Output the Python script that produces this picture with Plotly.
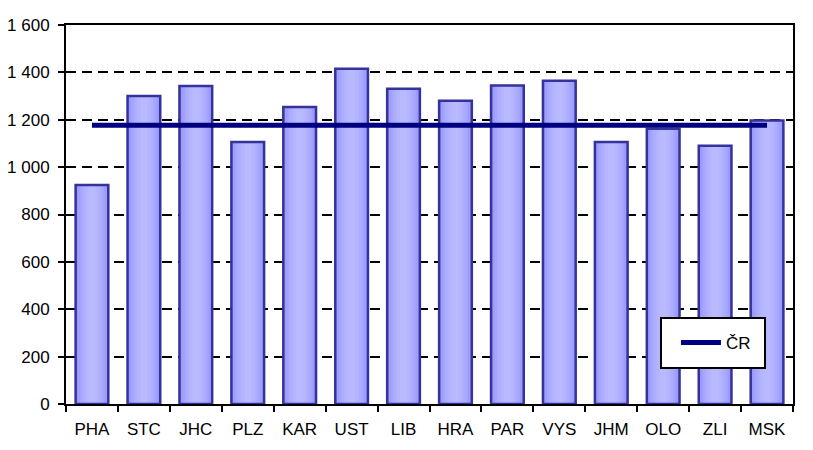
import plotly.graph_objects as go

regions = ["PHA", "STC", "JHC", "PLZ", "KAR", "UST", "LIB", "HRA", "PAR", "VYS", "JHM", "OLO", "ZLI", "MSK"]
values = [925, 1300, 1342, 1106, 1254, 1415, 1331, 1280, 1345, 1365, 1106, 1162, 1090, 1197]
cr_value = 1177
cr_values = [cr_value] * len(regions)

y_tickvals = [0, 200, 400, 600, 800, 1000, 1200, 1400, 1600]
y_ticktext = ["0", "200", "400", "600", "800", "1 000", "1 200", "1 400", "1 600"]

FONT = "Liberation Sans, Arial, sans-serif"

fig = go.Figure()

# gradient fill built from overlaid layers (outer dark -> inner light)
layers = [(0.63, "#9494fb"), (0.56, "#9d9dfd"), (0.48, "#a6a6ff"), (0.38, "#aeaeff"), (0.26, "#b5b5ff"), (0.14, "#b9b9ff")]
for w, c in layers:
    fig.add_trace(go.Bar(x=regions, y=values, width=w, marker=dict(color=c, line=dict(width=0)),
                         showlegend=False, hoverinfo="skip"))
# outline
fig.add_trace(go.Bar(x=regions, y=values, width=0.63,
                     marker=dict(color="rgba(0,0,0,0)", line=dict(color="#333399", width=2.5)),
                     showlegend=False))

fig.add_trace(go.Scatter(x=regions, y=cr_values, mode="lines", name="ČR",
                         line=dict(color="#000080", width=5)))

fig.update_layout(
    width=813, height=450,
    margin=dict(l=66, r=20, t=25, b=46),
    paper_bgcolor="white", plot_bgcolor="white",
    barmode="overlay",
    font=dict(family=FONT, size=17, color="#000000"),
    showlegend=True,
    legend=dict(x=0.839, y=0.161, xanchor="left", yanchor="middle",
                bgcolor="rgba(0,0,0,0)", borderwidth=0, itemwidth=40,
                font=dict(family=FONT, size=17, color="#000000")),
    shapes=[dict(type="rect", xref="paper", yref="paper",
                 x0=(661 - 66) / 727, x1=(765 - 66) / 727,
                 y0=(404 - 368) / 379, y1=(404 - 318) / 379,
                 line=dict(color="black", width=2), fillcolor="white", layer="above")],
)

fig.update_xaxes(
    showline=True, linecolor="black", linewidth=2, mirror=True,
    ticks="outside", ticklen=6, tickwidth=2, tickcolor="black",
    tickson="boundaries", showgrid=False, ticklabelstandoff=9, automargin=False,
    range=[-0.5, len(regions) - 0.5],
    tickfont=dict(family=FONT, size=17, color="#000000"),
)
fig.update_yaxes(
    range=[0, 1600], tickvals=y_tickvals, ticktext=y_ticktext,
    showline=True, linecolor="black", linewidth=2, mirror=True,
    ticks="outside", ticklen=6, tickwidth=2, tickcolor="black",
    showgrid=True, gridcolor="black", gridwidth=2, griddash="10px,6px",
    zeroline=False, ticklabelstandoff=5, automargin=False,
    tickfont=dict(family=FONT, size=17, color="#000000"),
)

fig.write_html("out.html")
